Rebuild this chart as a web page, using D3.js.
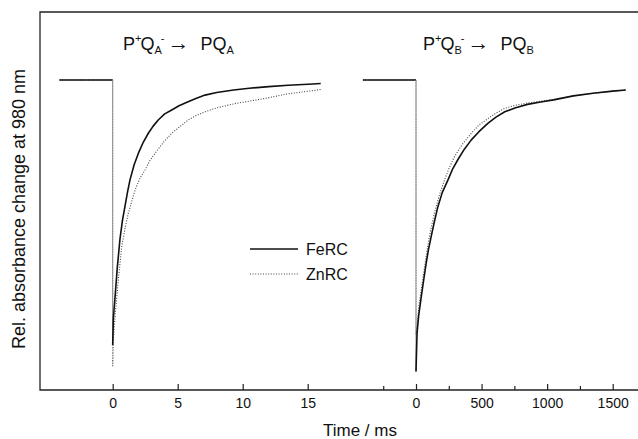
<!DOCTYPE html>
<html><head><meta charset="utf-8">
<script src="https://cdn.jsdelivr.net/npm/d3@7"></script>
<style>body{margin:0;background:#fff}svg{display:block}text{font-family:"Liberation Sans",Arial,sans-serif;fill:#111}</style>
</head><body><svg id="c" width="638" height="439"></svg>
<script>
// Left panel (P+QA- -> PQA), time in ms, relative absorbance change
const feA_t = [-4.1,0,0,0.05,0.18,0.35,0.56,0.75,0.95,1.15,1.33,1.65,1.97,2.35,2.74,3.1,3.5,4.0,4.54,5.1,5.8,6.4,7.1,8.0,9.3,10.5,12,13.5,15.4,16.0];
const feA_v = [0,0,-1.0,-0.90,-0.82,-0.71,-0.60,-0.53,-0.475,-0.42,-0.377,-0.32,-0.277,-0.235,-0.201,-0.175,-0.151,-0.128,-0.113,-0.097,-0.082,-0.07,-0.057,-0.047,-0.038,-0.031,-0.025,-0.02,-0.015,-0.013];
const znA_t = [-4.1,0,0,0.05,0.2,0.43,0.69,0.95,1.2,1.72,2.1,2.48,2.85,3.25,3.9,4.54,5.2,5.8,6.4,7.1,8.0,9.5,10.5,11.9,13.5,15.4,16.0];
const znA_v = [0,0,-1.08,-0.98,-0.88,-0.755,-0.63,-0.56,-0.503,-0.415,-0.37,-0.34,-0.305,-0.277,-0.235,-0.201,-0.175,-0.151,-0.135,-0.12,-0.105,-0.088,-0.08,-0.068,-0.052,-0.04,-0.036];
// Right panel (P+QB- -> PQB)
const feB_t = [-405,0,0,8,20,40,60,78,95,116,140,167,200,244,280,320,370,422,480,550,610,677,760,850,950,1050,1200,1350,1500,1600];
const feB_v = [0,0,-1.10,-0.955,-0.89,-0.818,-0.75,-0.69,-0.64,-0.59,-0.535,-0.478,-0.425,-0.377,-0.335,-0.30,-0.26,-0.226,-0.195,-0.163,-0.14,-0.12,-0.105,-0.092,-0.083,-0.075,-0.06,-0.05,-0.042,-0.038];
const znB_t = [-405,0,0,10,25,51,70,89,112,140,175,217,255,294,350,422,480,550,610,677,760,850,950,1050,1200,1350,1500,1600];
const znB_v = [0,0,-0.96,-0.92,-0.84,-0.755,-0.69,-0.629,-0.565,-0.503,-0.44,-0.377,-0.33,-0.289,-0.245,-0.201,-0.17,-0.145,-0.125,-0.107,-0.095,-0.087,-0.08,-0.073,-0.06,-0.05,-0.042,-0.038];
const ticksA = [0,5,10,15];
const ticksB = [0,500,1000,1500];
const minorB = [-250,250,750,1250];
const seriesNames = ["FeRC","ZnRC"];

const svg = d3.select("#c");
const X0=40, X1=638, Y0=12, Y1=390;
const xA = d3.scaleLinear().domain([0,15]).range([112.7,307.7]);
const xB = d3.scaleLinear().domain([0,1500]).range([416,612.7]);
const y = d3.scaleLinear().domain([-1,0]).range([345,80]);

// frame: left, top, bottom
svg.append("path").attr("d",`M${X1},${Y0}H${X0}V${Y1}H${X1}`).attr("fill","none").attr("stroke","#222").attr("stroke-width",1.3);

function axis(sc, vals, len){
  const g = svg.append("g").attr("transform",`translate(0,${Y1})`)
    .call(d3.axisBottom(sc).tickValues(vals).tickSizeInner(-len).tickSizeOuter(0).tickPadding(len+2).tickFormat(d=>len>4?d3.format("d")(d):""));
  g.select(".domain").remove();
  g.selectAll(".tick line").attr("stroke","#222").attr("stroke-width",1.2);
  g.selectAll(".tick text").attr("font-size",14).attr("fill","#111").attr("font-family",'"Liberation Sans",Arial,sans-serif');
  return g;
}
axis(xA, ticksA, 6);
axis(xB, ticksB, 6);
axis(xB, minorB, 4);

const line = d3.line().curve(d3.curveLinear);
function draw(sc, ts, vs, dashed){
  const pts = ts.map((t,i)=>[sc(t), y(vs[i])]);
  svg.append("path").attr("d", line(pts.slice(0,2)))
    .attr("fill","none").attr("stroke", dashed?"#444":"#111")
    .attr("stroke-width", dashed?1.1:1.6).attr("stroke-dasharray", dashed?"1,1.6":null);
  svg.append("path").attr("d", line(pts.slice(1,3)))
    .attr("fill","none").attr("stroke", "#888").attr("stroke-width", 1)
    .attr("stroke-dasharray", dashed?"1,1.6":null);
  svg.append("path").attr("d", line(pts.slice(2)))
    .attr("fill","none").attr("stroke", dashed?"#444":"#111")
    .attr("stroke-width", dashed?1.1:1.6)
    .attr("stroke-dasharray", dashed?"1,1.6":null)
    .attr("stroke-linejoin","round");
}
draw(xA, znA_t, znA_v, true);
draw(xA, feA_t, feA_v, false);
draw(xB, znB_t, znB_v, true);
draw(xB, feB_t, feB_v, false);

// titles
function title(x, sub){
  const t = svg.append("text").attr("x",x).attr("y",50).attr("font-size",18);
  t.append("tspan").text("P");
  t.append("tspan").attr("dy",-8).attr("font-size",11).text("+");
  t.append("tspan").attr("dy",8).attr("dx",-1).text("Q");
  t.append("tspan").attr("dy",4).attr("font-size",11).text(sub);
  t.append("tspan").attr("dy",-12).attr("dx",-1).attr("font-size",11).text("-");
  t.append("tspan").attr("dy",8).attr("dx",3).attr("font-size",22).text("\u2192");
  t.append("tspan").attr("dx",11).text("PQ");
  t.append("tspan").attr("dy",4).attr("font-size",11).text(sub);
}
title(123,"A");
title(423,"B");

// legend
const leg = [[249,false],[274,true]];
leg.forEach(([ly,d],i)=>{
  svg.append("line").attr("x1",250).attr("x2",298).attr("y1",ly).attr("y2",ly)
    .attr("stroke",d?"#444":"#111").attr("stroke-width",d?1.1:1.4).attr("stroke-dasharray",d?"1,1.6":null);
  svg.append("text").attr("x",306).attr("y",ly+6).attr("font-size",16).text(seriesNames[i]);
});

// axis labels
svg.append("text").attr("x",360).attr("y",436).attr("text-anchor","middle").attr("font-size",17).text("Time / ms");
svg.append("text").attr("transform","translate(25,209) rotate(-90)").attr("text-anchor","middle").attr("font-size",18).text("Rel. absorbance change at 980 nm");
</script></body></html>
